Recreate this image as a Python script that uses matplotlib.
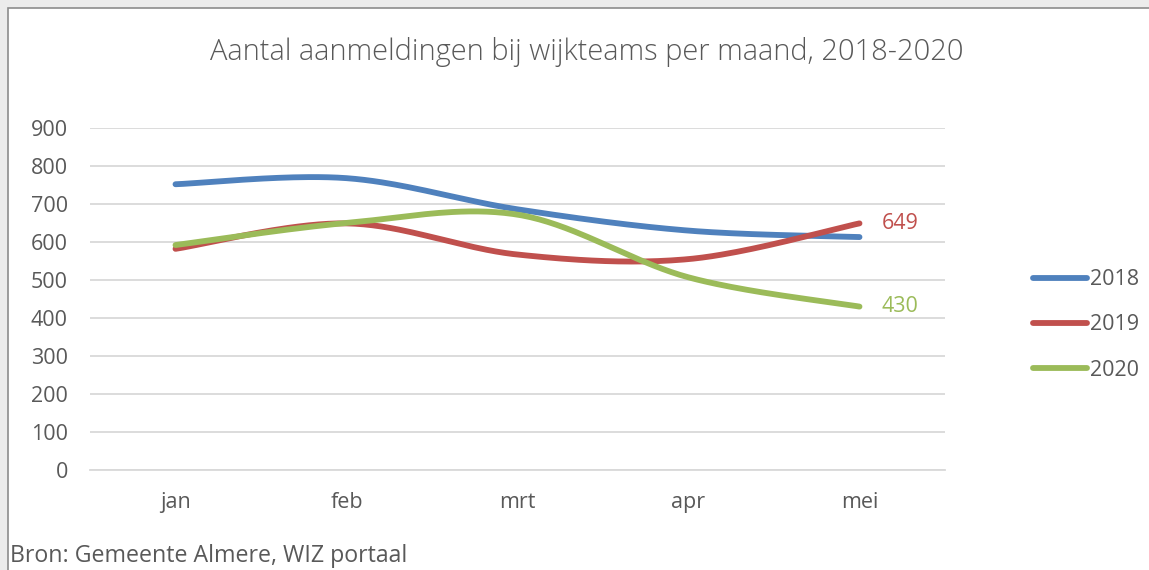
import numpy as np
import matplotlib.pyplot as plt
from matplotlib.patches import Rectangle

months = ["jan", "feb", "mrt", "apr", "mei"]
years = ["2018", "2019", "2020"]
v2018 = [752, 768, 686, 630, 613]
v2019 = [582, 649, 567, 555, 649]
v2020 = [592, 650, 672, 507, 430]
colors = ["#4f81bd", "#c0504d", "#9bbb59"]

plt.rcParams["font.family"] = ["Open Sans", "DejaVu Sans"]
txt = "#595959"
fs = 15.5


def smooth(x, y, n=40):
    # Excel-like smoothed line: Catmull-Rom through the points, as Bezier segments
    x = np.asarray(x, float)
    y = np.asarray(y, float)
    px = np.concatenate([[x[0]], x, [x[-1]]])
    py = np.concatenate([[y[0]], y, [y[-1]]])
    t = np.linspace(0, 1, n)[:, None]
    xs, ys = [], []
    for i in range(1, len(x)):
        p0 = np.array([x[i - 1], y[i - 1]])
        p3 = np.array([x[i], y[i]])
        p1 = p0 + (np.array([px[i + 1], py[i + 1]]) - np.array([px[i - 1], py[i - 1]])) / 6
        p2 = p3 - (np.array([px[i + 2], py[i + 2]]) - np.array([px[i], py[i]])) / 6
        b = (1 - t) ** 3 * p0 + 3 * (1 - t) ** 2 * t * p1 + 3 * (1 - t) * t ** 2 * p2 + t ** 3 * p3
        xs.append(b[:, 0])
        ys.append(b[:, 1])
    return np.concatenate(xs), np.concatenate(ys)


fig = plt.figure(figsize=(11.49, 5.70), dpi=100)
fig.patch.set_facecolor("#ececec")
fig.patches.append(Rectangle((8 / 1149, -0.1), 1.2, 1 - 8 / 570 + 0.1, transform=fig.transFigure,
                             facecolor="white", edgecolor="#8c8c8c", lw=1.2, zorder=-1))

ax = fig.add_axes([90 / 1149, 100 / 570, 855 / 1149, 342 / 570])
ax.set_facecolor("white")
x = np.arange(len(months))
for vals, c, lab in zip([v2018, v2019, v2020], colors, years):
    sx, sy = smooth(x, vals)
    ax.plot(sx, sy, color=c, lw=4.2, solid_capstyle="round", label=lab)

ax.set_xlim(-0.5, 4.5)
ax.set_ylim(0, 900)
ax.set_yticks(range(0, 901, 100))
ax.set_xticks(x)
ax.set_xticklabels(months)
ax.grid(axis="y", color="#d9d9d9", lw=1.3)
ax.set_axisbelow(True)
for s in ["top", "right", "left"]:
    ax.spines[s].set_visible(False)
ax.spines["bottom"].set_color("#d9d9d9")
ax.spines["bottom"].set_linewidth(1.3)
ax.tick_params(axis="both", length=0, labelsize=fs, colors=txt)
ax.tick_params(axis="y", pad=16)
ax.tick_params(axis="x", pad=16)

ax.annotate(str(v2019[-1]), (4, v2019[-1]), xytext=(16, 0), textcoords="offset points",
            color=colors[1], fontsize=fs, va="center")
ax.annotate(str(v2020[-1]), (4, v2020[-1]), xytext=(16, 0), textcoords="offset points",
            color=colors[2], fontsize=fs, va="center")

leg = ax.legend(loc="center left", bbox_to_anchor=(1.08, 0.424), frameon=False, fontsize=fs,
                handlelength=2.5, handletextpad=0.15, labelspacing=1.12, labelcolor=txt)

fig.text(587 / 1149, 1 - 52 / 570, "Aantal aanmeldingen bij wijkteams per maand, 2018-2020",
         ha="center", va="center", fontsize=20.9, color=txt, fontweight="light")
fig.text(10 / 1149, 1 - 556 / 570, "Bron: Gemeente Almere, WIZ portaal",
         ha="left", va="center", fontsize=16.7, color=txt)

fig.savefig("out.png", dpi=100, facecolor=fig.get_facecolor())
